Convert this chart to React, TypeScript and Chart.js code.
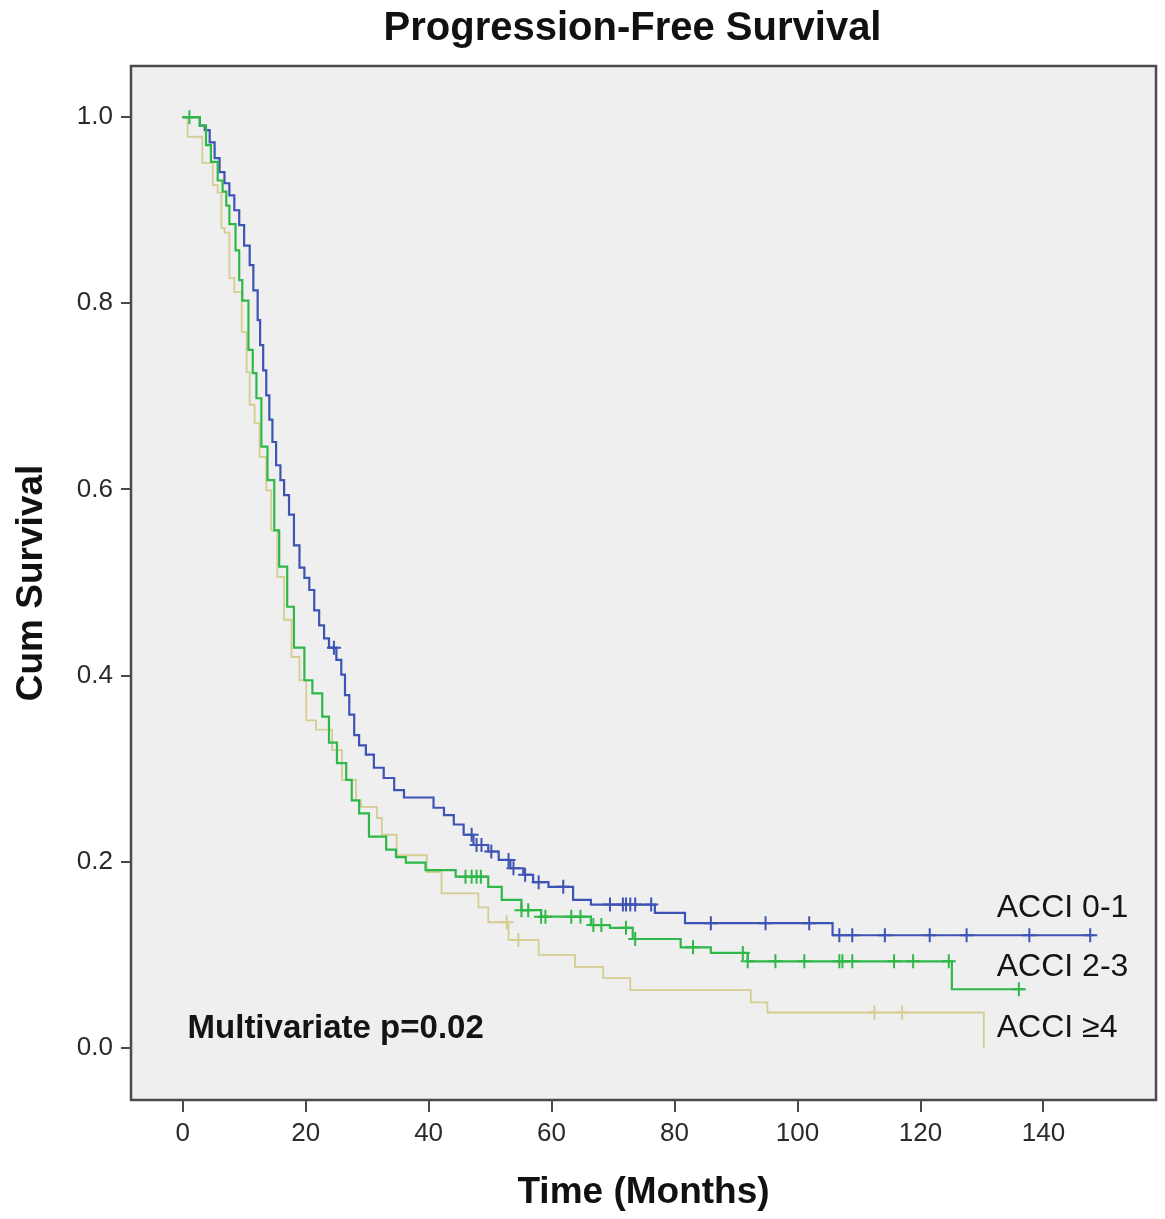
import React, { useEffect, useRef } from 'react';
import { Chart, registerables } from 'chart.js';

Chart.register(...registerables);

const FONT = "'Liberation Sans', Arial, sans-serif";

const xTicks = [0, 20, 40, 60, 80, 100, 120, 140];
const yTicks = [0, 0.2, 0.4, 0.6, 0.8, 1.0];

// Kaplan-Meier steps: [time (months), survival after event]
const acci01Steps: number[][] = [
  [0, 1], [2.8, 0.991], [3.6, 0.986], [4.4, 0.973], [5.2, 0.956], [6.0, 0.941], [6.8, 0.929],
  [7.6, 0.916], [8.4, 0.9], [9.2, 0.884], [10.0, 0.862], [10.9, 0.841], [11.5, 0.814],
  [12.2, 0.782], [12.6, 0.755], [13.1, 0.728], [13.6, 0.701], [14.1, 0.675], [14.6, 0.651],
  [15.2, 0.626], [15.9, 0.61], [16.5, 0.594], [17.3, 0.573], [18.1, 0.54], [19.0, 0.516],
  [19.8, 0.505], [20.6, 0.492], [21.4, 0.47], [22.2, 0.454], [23.0, 0.44], [23.8, 0.43],
  [25.0, 0.417], [25.8, 0.401], [26.4, 0.379], [27.1, 0.358], [27.9, 0.336], [28.7, 0.325],
  [29.8, 0.315], [31.1, 0.301], [32.7, 0.29], [34.4, 0.277], [36.0, 0.269], [40.8, 0.258],
  [42.5, 0.25], [44.1, 0.24], [45.7, 0.229], [47.3, 0.218], [49.7, 0.211], [51.4, 0.202],
  [53.3, 0.193], [55.4, 0.186], [57.0, 0.178], [59.5, 0.173], [63.5, 0.159], [66.4, 0.154],
  [76.8, 0.145], [81.7, 0.134], [105.7, 0.121],
];
const acci01End = 148.1;
const acci01Censored = [
  24.6, 47.0, 47.8, 48.6, 50.2, 53.0, 53.8, 55.7, 57.9, 61.9, 69.5, 71.6, 72.1, 72.8, 73.6,
  76.2, 85.9, 94.8, 101.9, 106.8, 108.9, 114.2, 121.5, 127.5, 137.7, 147.6,
];

const acci23Steps: number[][] = [
  [0, 1], [2.8, 0.991], [3.8, 0.97], [4.6, 0.952], [5.7, 0.932], [6.5, 0.92], [7.1, 0.905],
  [7.6, 0.885], [8.6, 0.857], [9.2, 0.825], [9.7, 0.803], [10.7, 0.75], [11.4, 0.725],
  [12.0, 0.698], [12.8, 0.646], [13.8, 0.61], [14.9, 0.556], [15.7, 0.517], [17.0, 0.474],
  [18.1, 0.43], [19.8, 0.395], [21.1, 0.381], [22.7, 0.356], [23.8, 0.328], [25.1, 0.306],
  [26.6, 0.288], [27.5, 0.266], [28.7, 0.252], [30.3, 0.227], [33.1, 0.213], [34.7, 0.205],
  [36.3, 0.199], [39.5, 0.191], [44.4, 0.184], [49.7, 0.173], [51.9, 0.159], [55.1, 0.148],
  [58.3, 0.141], [66.4, 0.132], [69.5, 0.129], [73.2, 0.117], [81.0, 0.108], [85.9, 0.102],
  [91.9, 0.093], [125.1, 0.063],
];
const acci23End = 136.8;
const acci23Censored = [
  1.1, 46.0, 47.0, 47.8, 48.5, 55.1, 56.2, 58.3, 59.0, 63.2, 64.7, 66.8, 68.1, 72.1, 73.6,
  83.0, 91.1, 91.9, 96.4, 101.1, 106.8, 107.3, 108.9, 115.7, 118.8, 124.6, 136.0,
];

const acci4Steps: number[][] = [
  [0, 1], [0.8, 0.979], [3.2, 0.951], [4.9, 0.927], [5.7, 0.919], [6.3, 0.881], [6.8, 0.876],
  [7.6, 0.827], [8.4, 0.812], [9.6, 0.769], [10.4, 0.726], [10.9, 0.691], [11.7, 0.671],
  [12.5, 0.635], [13.6, 0.599], [14.4, 0.556], [15.4, 0.506], [16.5, 0.46], [17.7, 0.42],
  [19.0, 0.395], [20.1, 0.352], [21.7, 0.342], [24.3, 0.32], [25.9, 0.288], [28.2, 0.266],
  [29.0, 0.259], [31.6, 0.247], [32.4, 0.229], [34.8, 0.207], [39.7, 0.189], [42.1, 0.166],
  [48.1, 0.151], [49.7, 0.135], [53.0, 0.116], [57.9, 0.1], [63.8, 0.087], [68.4, 0.075],
  [72.8, 0.062], [92.4, 0.049], [95.1, 0.038], [130.3, 0.0],
];
const acci4End = 130.3;
const acci4Censored = [52.7, 54.6, 112.5, 117.0];

const groupNames = ['ACCI 0-1', 'ACCI 2-3', 'ACCI \u22654'];
const groupColors = ['#3e54b4', '#2fb84a', '#d6cd92'];

const titleText = 'Progression-Free Survival';

// Text annotations placed in data units: [x (months), y (survival)]
const groupLabelPos: number[][] = [[132.4, 0.15], [132.4, 0.087], [132.4, 0.021]];
const pValueText = 'Multivariate p=0.02';
const pValuePos = [0.8, 0.02];

function survAt(steps: number[][], t: number): number {
  let s = steps[0][1];
  for (const [tt, ss] of steps) {
    if (tt <= t) s = ss;
    else break;
  }
  return s;
}

function lineData(steps: number[][], end: number) {
  const pts = steps.map(([x, y]) => ({ x, y }));
  const last = steps[steps.length - 1];
  if (end > last[0]) pts.push({ x: end, y: last[1] });
  return pts;
}

function censorData(steps: number[][], times: number[]) {
  return times.map((t) => ({ x: t, y: survAt(steps, t) }));
}

const decorPlugin = {
  id: 'decor',
  beforeDraw(chart: any) {
    const { ctx, chartArea: a } = chart;
    ctx.save();
    ctx.fillStyle = '#efefef';
    ctx.fillRect(a.left, a.top, a.right - a.left, a.bottom - a.top);
    ctx.restore();
  },
  afterDraw(chart: any) {
    const { ctx, chartArea: a, scales } = chart;
    ctx.save();
    ctx.strokeStyle = '#4a4a4a';
    ctx.lineWidth = 2.5;
    ctx.strokeRect(a.left, a.top, a.right - a.left, a.bottom - a.top);
    // title
    ctx.fillStyle = '#111';
    ctx.textBaseline = 'middle';
    ctx.textAlign = 'center';
    ctx.font = `bold 40px ${FONT}`;
    ctx.fillText(titleText, (a.left + a.right) / 2 - 11, 29);
    // group labels
    ctx.fillStyle = '#141414';
    ctx.textAlign = 'left';
    ctx.font = `32px ${FONT}`;
    groupNames.forEach((name, i) => {
      const [x, y] = groupLabelPos[i];
      ctx.fillText(name, scales.x.getPixelForValue(x), scales.y.getPixelForValue(y));
    });
    ctx.font = `bold 33px ${FONT}`;
    ctx.fillText(pValueText, scales.x.getPixelForValue(pValuePos[0]), scales.y.getPixelForValue(pValuePos[1]));
    ctx.restore();
  },
};

export default function App() {
  const ref = useRef<HTMLCanvasElement | null>(null);
  useEffect(() => {
    document.body.style.margin = '0';
    const canvas = ref.current;
    if (!canvas) return;
    const steps = [acci01Steps, acci23Steps, acci4Steps];
    const ends = [acci01End, acci23End, acci4End];
    const cens = [acci01Censored, acci23Censored, acci4Censored];
    const datasets: any[] = [];
    const order = [1, 0, 2];
    order.forEach((i) => {
      datasets.push({
        label: groupNames[i] + ' censored',
        data: censorData(steps[i], cens[i]),
        showLine: false,
        pointStyle: 'cross',
        pointRadius: 7,
        pointBorderWidth: 2,
        borderColor: groupColors[i],
        backgroundColor: groupColors[i],
      });
      datasets.push({
        label: groupNames[i],
        data: lineData(steps[i], ends[i]),
        stepped: 'before',
        borderColor: groupColors[i],
        borderWidth: i === 2 ? 1.8 : 2.2,
        pointRadius: 0,
        fill: false,
      });
    });
    const chart = new Chart(canvas, {
      type: 'line',
      data: { datasets },
      plugins: [decorPlugin],
      options: {
        animation: false,
        responsive: false,
        maintainAspectRatio: false,
        layout: { padding: { top: 66, right: 5, left: 0, bottom: 0 } },
        plugins: {
          legend: { display: false },
          tooltip: { enabled: false },
          title: { display: false },
        },
        scales: {
          x: {
            type: 'linear',
            min: -8.4,
            max: 158.3,
            afterBuildTicks: (s: any) => {
              s.ticks = xTicks.map((v) => ({ value: v }));
            },
            afterFit: (s: any) => {
              s.height = 119;
            },
            border: { display: false },
            grid: { drawOnChartArea: false, drawTicks: true, tickLength: 12, color: '#4a4a4a', lineWidth: 2 },
            ticks: {
              color: '#2a2a2a',
              font: { family: FONT, size: 26 },
              padding: 6,
              maxRotation: 0,
              callback: (v: any) => String(v),
            },
            title: {
              display: true,
              text: 'Time (Months)',
              color: '#111',
              font: { family: FONT, size: 37, weight: 'bold' },
              padding: { top: 0, bottom: 4 },
            },
          },
          y: {
            type: 'linear',
            min: -0.056,
            max: 1.055,
            afterBuildTicks: (s: any) => {
              s.ticks = yTicks.map((v) => ({ value: v }));
            },
            afterFit: (s: any) => {
              s.width = 131;
            },
            border: { display: false },
            grid: { drawOnChartArea: false, drawTicks: true, tickLength: 10, color: '#4a4a4a', lineWidth: 2 },
            ticks: {
              color: '#2a2a2a',
              font: { family: FONT, size: 26 },
              padding: 8,
              callback: (v: any) => Number(v).toFixed(1),
            },
            title: {
              display: true,
              text: 'Cum Survival',
              color: '#111',
              font: { family: FONT, size: 37, weight: 'bold' },
              padding: { top: 10, bottom: 0 },
            },
          },
        },
      },
    });
    return () => chart.destroy();
  }, []);
  return (
    <div style={{ width: 1165, height: 1219 }}>
      <canvas ref={ref} width={1165} height={1219} />
    </div>
  );
}
